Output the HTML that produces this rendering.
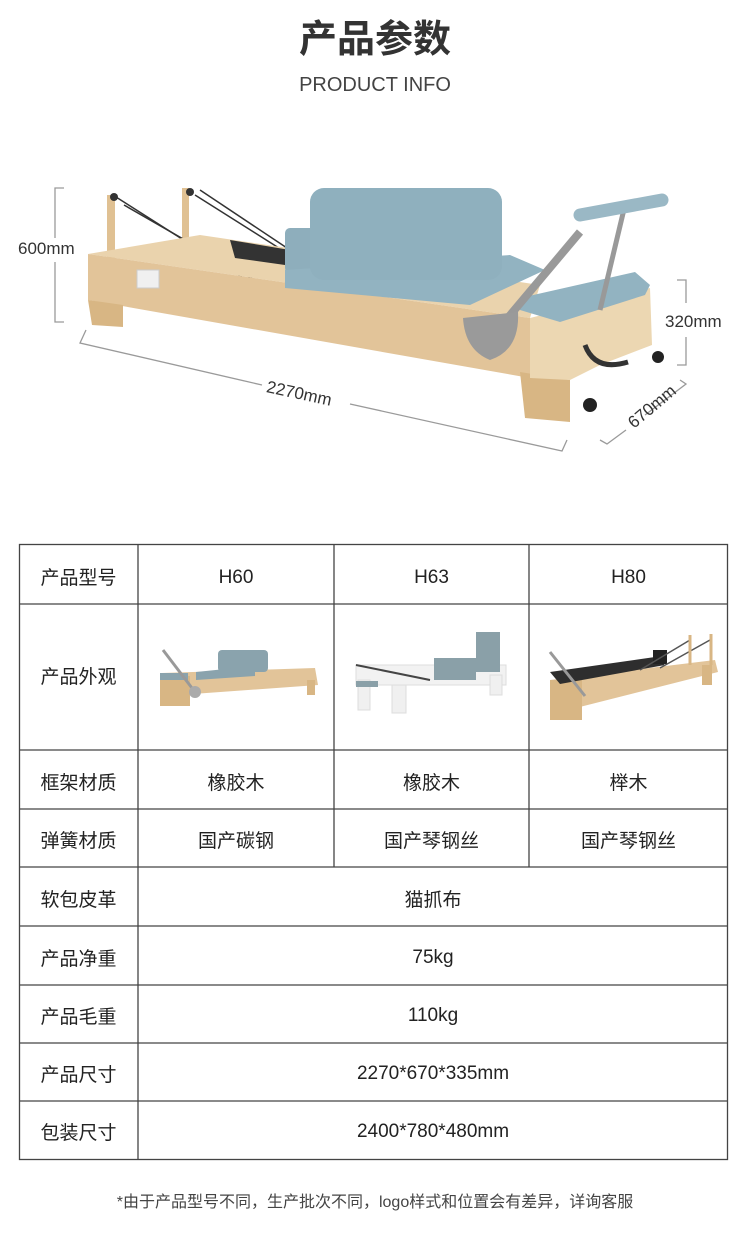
<!DOCTYPE html>
<html><head><meta charset="utf-8"><style>
body{margin:0;width:750px;height:1241px;background:#fff;position:relative;overflow:hidden;font-family:"Liberation Sans","Noto Sans CJK SC",sans-serif;color:#222}
.t{position:absolute;white-space:nowrap}
.c{position:absolute;text-align:center;font-size:19px;color:#222}
svg{position:absolute;left:0;top:0}
</style></head><body>
<svg width="750" height="1241" viewBox="0 0 750 1241">
<g stroke="#9a9a9a" stroke-width="1.3" fill="none">
<polyline points="64,188 55,188 55,238"/><polyline points="55,262 55,322 64,322"/>
<polyline points="677,280 686,280 686,303"/><polyline points="686,337 686,365 677,365"/>
<polyline points="86,330 80,343 262,385"/><polyline points="350,404 562,451 567,440"/>
<polyline points="680,380 686,384 645,415"/><polyline points="626,430 607,444 600,440"/>
</g>
<rect x="107" y="195" width="8" height="70" fill="#e0c193"/><rect x="182" y="188" width="7" height="60" fill="#e0c193"/>
<g stroke="#333" stroke-width="1.5"><line x1="116" y1="197" x2="270" y2="295"/><line x1="124" y1="205" x2="272" y2="290"/><line x1="195" y1="195" x2="290" y2="255"/><line x1="200" y1="190" x2="290" y2="250"/></g>
<circle cx="114" cy="197" r="4" fill="#333"/><circle cx="190" cy="192" r="4" fill="#333"/>
<polygon points="88,254 200,235 540,285 530,318" fill="#ead3ad"/>
<polygon points="230,240 290,250 285,265 235,258" fill="#333"/>
<polygon points="88,254 530,318 530,378 88,300" fill="#e2c499"/>
<polygon points="88,300 123,305 123,327 92,325" fill="#d8b684"/>
<polygon points="520,372 570,380 570,422 525,418" fill="#d8b684"/>
<polygon points="530,318 650,288 652,345 600,365 570,380 530,378" fill="#ecd7b2"/>
<rect x="137" y="270" width="22" height="18" fill="#f0f0f0" stroke="#ccc"/>
<rect x="285" y="228" width="30" height="45" rx="5" fill="#8eaebc"/>
<polygon points="285,270 510,255 545,270 470,305 285,288" fill="#92b3c1"/>
<rect x="310" y="188" width="192" height="92" rx="14" fill="#8fb0be"/>
<polygon points="520,298 635,272 650,285 645,295 560,322 520,310" fill="#92b3c1"/>
<line x1="580" y1="232" x2="485" y2="345" stroke="#999" stroke-width="8"/>
<line x1="625" y1="205" x2="600" y2="310" stroke="#999" stroke-width="5"/>
<line x1="580" y1="215" x2="662" y2="200" stroke="#9ab8c5" stroke-width="13" stroke-linecap="round"/>
<path d="M463,318 L518,312 Q520,350 490,360 Q465,350 463,318Z" fill="#9a9a9a"/>
<path d="M585,345 Q595,372 628,362" stroke="#333" stroke-width="5" fill="none"/>
<circle cx="658" cy="357" r="6" fill="#222"/><circle cx="590" cy="405" r="7" fill="#222"/>
<g stroke="#444" stroke-width="1.3" fill="none">
<rect x="19.5" y="544.5" width="708" height="615"/>
<line x1="138" y1="544" x2="138" y2="1160"/>
<line x1="334" y1="544" x2="334" y2="867"/><line x1="529" y1="544" x2="529" y2="867"/>
<line x1="19" y1="604" x2="728" y2="604"/><line x1="19" y1="750" x2="728" y2="750"/>
<line x1="19" y1="809" x2="728" y2="809"/><line x1="19" y1="867" x2="728" y2="867"/>
<line x1="19" y1="926" x2="728" y2="926"/><line x1="19" y1="985" x2="728" y2="985"/>
<line x1="19" y1="1043" x2="728" y2="1043"/><line x1="19" y1="1101" x2="728" y2="1101"/>
</g>
<polygon points="162,673 315,668 318,685 165,696" fill="#e2c499"/>
<rect x="160" y="676" width="30" height="30" fill="#d8b684"/><rect x="307" y="680" width="8" height="15" fill="#d8b684"/>
<rect x="218" y="650" width="50" height="22" rx="4" fill="#8aa3ad"/>
<polygon points="196,672 255,666 255,676 196,680" fill="#8aa3ad"/>
<rect x="160" y="673" width="28" height="7" fill="#8aa3ad"/>
<line x1="163" y1="650" x2="195" y2="692" stroke="#999" stroke-width="3"/>
<circle cx="195" cy="692" r="6" fill="#aaa"/>
<rect x="356" y="665" width="150" height="20" fill="#f2f2f2" stroke="#ddd"/>
<rect x="358" y="680" width="12" height="30" fill="#f0f0f0" stroke="#ddd"/><rect x="392" y="685" width="14" height="28" fill="#f0f0f0" stroke="#ddd"/><rect x="490" y="675" width="12" height="20" fill="#f0f0f0" stroke="#ddd"/>
<rect x="434" y="658" width="42" height="22" fill="#8aa0a8"/><rect x="476" y="632" width="24" height="40" fill="#8aa0a8"/>
<rect x="356" y="681" width="22" height="6" fill="#8aa0a8"/>
<line x1="356" y1="665" x2="430" y2="680" stroke="#444" stroke-width="2"/>
<polygon points="550,680 715,660 718,672 560,712" fill="#e2c499"/>
<rect x="550" y="680" width="32" height="40" fill="#d8b684"/><rect x="702" y="665" width="10" height="20" fill="#d8b684"/>
<polygon points="550,672 655,657 665,665 560,684" fill="#2e2e2e"/>
<rect x="653" y="650" width="14" height="14" fill="#222"/>
<line x1="550" y1="652" x2="585" y2="696" stroke="#999" stroke-width="3"/>
<line x1="690" y1="640" x2="640" y2="670" stroke="#555" stroke-width="1.5"/><line x1="710" y1="640" x2="660" y2="668" stroke="#555" stroke-width="1.5"/>
<line x1="690" y1="635" x2="690" y2="665" stroke="#d8b684" stroke-width="3"/><line x1="711" y1="634" x2="711" y2="665" stroke="#d8b684" stroke-width="3"/>
</svg>
<div class="t" style="left:0;width:750px;text-align:center;top:8px;font-size:38px;font-weight:bold;color:#333">产品参数</div>
<div class="t" style="left:0;width:750px;text-align:center;top:74px;font-size:20px;color:#444">PRODUCT INFO</div>
<div class="t" style="left:18px;top:239px;font-size:17px;color:#333">600mm</div>
<div class="t" style="left:665px;top:312px;font-size:17px;color:#333">320mm</div>
<div class="t" style="left:266px;top:384px;font-size:17px;color:#333;transform:rotate(12deg)">2270mm</div>
<div class="t" style="left:624px;top:397px;font-size:17px;color:#333;transform:rotate(-40deg)">670mm</div>

<div class="c" style="left:19px;width:119px;top:563px">产品型号</div>
<div class="c" style="left:138px;width:196px;top:567px">H60</div>
<div class="c" style="left:334px;width:195px;top:567px">H63</div>
<div class="c" style="left:529px;width:199px;top:567px">H80</div>
<div class="c" style="left:19px;width:119px;top:662px">产品外观</div>
<div class="c" style="left:19px;width:119px;top:768px">框架材质</div>
<div class="c" style="left:138px;width:196px;top:768px">橡胶木</div>
<div class="c" style="left:334px;width:195px;top:768px">橡胶木</div>
<div class="c" style="left:529px;width:199px;top:768px">榉木</div>
<div class="c" style="left:19px;width:119px;top:826px">弹簧材质</div>
<div class="c" style="left:138px;width:196px;top:826px">国产碳钢</div>
<div class="c" style="left:334px;width:195px;top:826px">国产琴钢丝</div>
<div class="c" style="left:529px;width:199px;top:826px">国产琴钢丝</div>
<div class="c" style="left:19px;width:119px;top:885px">软包皮革</div>
<div class="c" style="left:138px;width:590px;top:885px">猫抓布</div>
<div class="c" style="left:19px;width:119px;top:944px">产品净重</div>
<div class="c" style="left:138px;width:590px;top:947px">75kg</div>
<div class="c" style="left:19px;width:119px;top:1002px">产品毛重</div>
<div class="c" style="left:138px;width:590px;top:1005px">110kg</div>
<div class="c" style="left:19px;width:119px;top:1060px">产品尺寸</div>
<div class="c" style="left:138px;width:590px;top:1063px">2270*670*335mm</div>
<div class="c" style="left:19px;width:119px;top:1118px">包装尺寸</div>
<div class="c" style="left:138px;width:590px;top:1121px">2400*780*480mm</div>
<div class="t" style="left:0;width:750px;text-align:center;top:1188px;font-size:16px;color:#444">*由于产品型号不同，生产批次不同，logo样式和位置会有差异，详询客服</div>
</body></html>
